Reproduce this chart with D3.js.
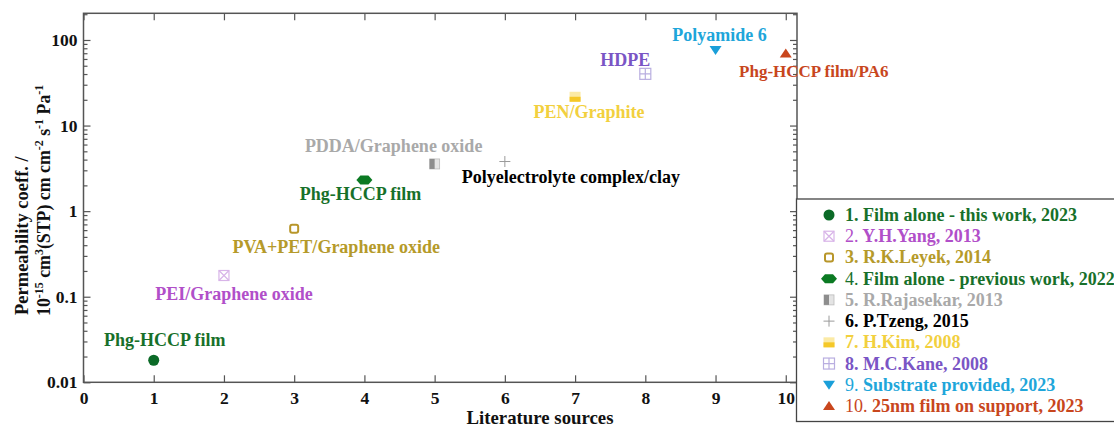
<!DOCTYPE html>
<html><head><meta charset="utf-8">
<script src="https://cdn.jsdelivr.net/npm/d3@7"></script>
<style>
body{margin:0;background:#fff;}
svg{display:block;font-family:"Liberation Serif","Times New Roman",serif;}
</style></head>
<body><svg id="c" width="1114" height="428"></svg>
<script>
// ---- data ----
const sources = [1,2,3,4,5,6,7,8,9,10];
const permeability = [0.0181, 0.177, 0.621, 2.31, 3.56, 3.8, 21.7, 40.2, 76.6, 69.4];
const pointLabels = ["Phg-HCCP film","PEI/Graphene oxide","PVA+PET/Graphene oxide","Phg-HCCP film","PDDA/Graphene oxide","Polyelectrolyte complex/clay","PEN/Graphite","HDPE","Polyamide 6","Phg-HCCP film/PA6"];
const legendNums = ["1.","2.","3.","4.","5.","6.","7.","8.","9.","10."];
const legendTexts = [" Film alone - this work, 2023"," Y.H.Yang, 2013"," R.K.Leyek, 2014"," Film alone - previous work, 2022"," R.Rajasekar, 2013"," P.Tzeng, 2015"," H.Kim, 2008"," M.C.Kane, 2008"," Substrate provided, 2023"," 25nm film on support, 2023"];
const xTicks = [0,1,2,3,4,5,6,7,8,9,10];
const yTicks = [0.01,0.1,1,10,100];
const yTickLabels = ["0.01","0.1","1","10","100"];

// ---- styles ----
const markerColors = ["#0b6a27","#d8b4e8","#b8962a","#0b7a23","#8d8d8d","#9a9a9a","#f5c828","#b9aee0","#1a9fd9","#c9461d"];
const textColors = ["#17702a","#b14fc9","#b59a2a","#17702a","#a9a9a9","#000","#f2d03e","#7a55c5","#1ea6da","#c8461d"];
const numBold = [true,false,true,false,true,true,true,true,false,false];
// label offsets (dx, dy baseline relative to point) and sizes
const labelOff = [[11,-14],[10,25],[42,24],[-4,20],[-41,-12],[66,21],[14,21],[-20,-8],[4,-9],[28,23]];
const labelSize = [18,18,18,18,18,18,18,18,18,17];

const svg = d3.select("#c");
const L=83.5, R=797, T=13.3, B=382.3;
const x = d3.scaleLinear().domain([0,10.16]).range([L,R]);
const y = d3.scaleLog().domain([0.01,205]).range([B,T]);
const frame = "#555";

// frame
svg.append("rect").attr("x",L).attr("y",T).attr("width",R-L).attr("height",B-T)
  .attr("fill","none").attr("stroke",frame).attr("stroke-width",1.5);

// axes
const minor = [];
for (let d=-2; d<=2; d++) for (let m=2;m<=9;m++){const v=m*Math.pow(10,d); if(v<=205) minor.push(v);}
const gB = svg.append("g").attr("transform",`translate(0,${B})`)
  .call(d3.axisBottom(x).tickValues(xTicks).tickSize(-7).tickPadding(9).tickFormat(d3.format("d")));
const gT = svg.append("g").attr("transform",`translate(0,${T})`)
  .call(d3.axisTop(x).tickValues(xTicks).tickSize(-7).tickFormat(""));
const gL = svg.append("g").attr("transform",`translate(${L},0)`)
  .call(d3.axisLeft(y).tickValues(yTicks).tickSize(-7).tickPadding(6).tickFormat((d,i)=>yTickLabels[i]));
const gLm = svg.append("g").attr("transform",`translate(${L},0)`)
  .call(d3.axisLeft(y).tickValues(minor).tickSize(-4).tickFormat(""));
const gR = svg.append("g").attr("transform",`translate(${R},0)`)
  .call(d3.axisRight(y).tickValues(yTicks).tickSize(-7).tickFormat(""));
const gRm = svg.append("g").attr("transform",`translate(${R},0)`)
  .call(d3.axisRight(y).tickValues(minor).tickSize(-4).tickFormat(""));
[gB,gT,gL,gLm,gR,gRm].forEach(g=>{
  g.select(".domain").remove();
  g.selectAll(".tick line").attr("stroke",frame).attr("stroke-width",1.2);
  g.selectAll(".tick text").attr("font-family","Liberation Serif").attr("font-weight","bold")
    .attr("font-size",17.5).attr("fill","#111");
});

// axis titles
svg.append("text").attr("x",540).attr("y",424).attr("text-anchor","middle")
  .attr("font-weight","bold").attr("font-size",18.8).attr("fill","#111").text("Literature sources");
const yt1 = svg.append("text").attr("transform","translate(28,315) rotate(-90)")
  .attr("font-weight","bold").attr("font-size",18.5).attr("fill","#111").text("Permeability coeff. /");
const yt2 = svg.append("text").attr("transform","translate(50,316) rotate(-90)")
  .attr("font-weight","bold").attr("font-size",17.8).attr("fill","#111");
const parts = [["10",0],["-15",1],[" cm",0],["3",1],["(STP) cm cm",0],["-2",1],[" s",0],["-1",1],[" Pa",0],["-1",1]];
let prevSup=false;
parts.forEach(([t,s])=>{
  const ts = yt2.append("tspan").text(t);
  if(s){ts.attr("font-size",12).attr("dy",-7.5);}
  else if(prevSup){ts.attr("dy",7.5);}
  prevSup=!!s;
});

// marker drawing
function drawMarker(g, i, cx, cy){
  const c = markerColors[i];
  switch(i){
    case 0: g.append("circle").attr("cx",cx).attr("cy",cy).attr("r",5.5).attr("fill",c); break;
    case 1:
      g.append("rect").attr("x",cx-5).attr("y",cy-5).attr("width",10).attr("height",10).attr("fill","none").attr("stroke",c).attr("stroke-width",1.2);
      g.append("path").attr("d",`M${cx-5},${cy-5}L${cx+5},${cy+5}M${cx+5},${cy-5}L${cx-5},${cy+5}`).attr("stroke",c).attr("stroke-width",1.2);
      break;
    case 2: g.append("rect").attr("x",cx-4).attr("y",cy-4).attr("width",8).attr("height",8).attr("rx",2).attr("fill","#fff").attr("stroke",c).attr("stroke-width",2); break;
    case 3: g.append("path").attr("d",`M${cx-8},${cy}L${cx-4},${cy-4.5}L${cx+4},${cy-4.5}L${cx+8},${cy}L${cx+4},${cy+4.5}L${cx-4},${cy+4.5}Z`).attr("fill",c); break;
    case 4:
      g.append("rect").attr("x",cx-5).attr("y",cy-5).attr("width",10).attr("height",10).attr("fill","#e4e4e4").attr("stroke","#bbb").attr("stroke-width",0.8);
      g.append("rect").attr("x",cx-5).attr("y",cy-5).attr("width",5).attr("height",10).attr("fill",c);
      break;
    case 5: g.append("path").attr("d",`M${cx-5.5},${cy}L${cx+5.5},${cy}M${cx},${cy-5.5}L${cx},${cy+5.5}`).attr("stroke",c).attr("stroke-width",1); break;
    case 6:
      g.append("rect").attr("x",cx-5.5).attr("y",cy-5).attr("width",11).attr("height",10).attr("fill","#fbeaa5");
      g.append("rect").attr("x",cx-5.5).attr("y",cy).attr("width",11).attr("height",5).attr("fill",c);
      break;
    case 7:
      g.append("rect").attr("x",cx-5.5).attr("y",cy-5.5).attr("width",11).attr("height",11).attr("fill","none").attr("stroke",c).attr("stroke-width",1.2);
      g.append("path").attr("d",`M${cx-5.5},${cy}L${cx+5.5},${cy}M${cx},${cy-5.5}L${cx},${cy+5.5}`).attr("stroke",c).attr("stroke-width",1.2);
      break;
    case 8: g.append("path").attr("d",`M${cx-6},${cy-4}L${cx+6},${cy-4}L${cx},${cy+5}Z`).attr("fill",c); break;
    case 9: g.append("path").attr("d",`M${cx-6},${cy+4}L${cx+6},${cy+4}L${cx},${cy-5}Z`).attr("fill",c); break;
  }
}

// points and labels
const gp = svg.append("g");
sources.forEach((s,i)=>{
  const cx=x(s), cy=y(permeability[i]);
  drawMarker(gp,i,cx,cy);
  gp.append("text").attr("x",cx+labelOff[i][0]).attr("y",cy+labelOff[i][1]).attr("text-anchor","middle")
    .attr("font-weight","bold").attr("font-size",labelSize[i]).attr("fill",textColors[i]).text(pointLabels[i]);
});

// legend
const lg = svg.append("g");
lg.append("rect").attr("x",796.5).attr("y",199).attr("width",330).attr("height",222.5)
  .attr("fill","#fff").attr("stroke","#444").attr("stroke-width",1.3);
const ly = d3.scalePoint().domain(sources).range([215,406]);
sources.forEach((s,i)=>{
  const yy = ly(s);
  drawMarker(lg,i,829,yy);
  const t = lg.append("text").attr("x",845).attr("y",yy+6).attr("font-size",18).attr("fill",textColors[i]);
  t.append("tspan").attr("font-weight",numBold[i]?"bold":"normal").text(legendNums[i]);
  t.append("tspan").attr("font-weight","bold").text(legendTexts[i]);
});
</script>
</body></html>
